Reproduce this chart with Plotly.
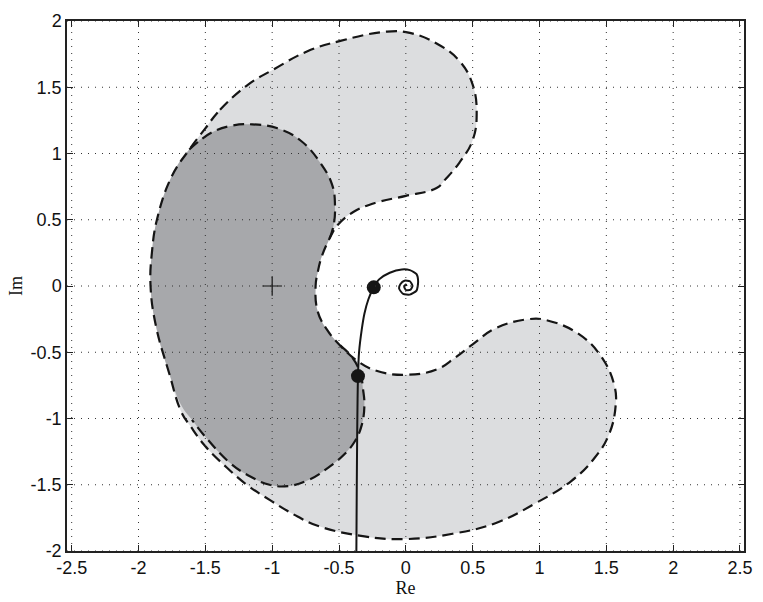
import plotly.graph_objects as go

# ---- data ----
# light (outer) uncertainty region boundary, clockwise, includes inner concave edge
light_x = [-1.50, -1.39, -1.18, -0.98, -0.74, -0.49, -0.14, 0.03, 0.23, 0.40, 0.50, 0.53, 0.50, 0.40, 0.30,
           0.23, 0.00, -0.22, -0.39, -0.51, -0.57, -0.63, -0.66, -0.675, -0.66, -0.59, -0.49, -0.37, -0.22,
           0.00, 0.23, 0.37, 0.50, 0.67, 0.92, 1.06, 1.29, 1.46, 1.56, 1.57, 1.52, 1.41, 1.24, 0.97, 0.67,
           0.35, 0.00, -0.31, -0.66, -0.81, -1.01, -1.19, -1.34, -1.50, -1.61, -1.68, -1.77, -1.87, -1.91,
           -1.90, -1.86, -1.75, -1.62, -1.50]
light_y = [1.19, 1.33, 1.52, 1.64, 1.77, 1.85, 1.92, 1.91, 1.83, 1.70, 1.52, 1.30, 1.10, 0.93, 0.81,
           0.74, 0.68, 0.63, 0.56, 0.46, 0.36, 0.22, 0.10, 0.00, -0.19, -0.33, -0.45, -0.56, -0.64,
           -0.67, -0.63, -0.54, -0.44, -0.32, -0.25, -0.26, -0.36, -0.53, -0.75, -0.90, -1.12, -1.30, -1.47,
           -1.64, -1.79, -1.87, -1.91, -1.89, -1.81, -1.74, -1.62, -1.50, -1.37, -1.21, -1.06, -0.95, -0.66,
           -0.30, 0.00, 0.25, 0.51, 0.83, 1.03, 1.19]

# dark region boundary, clockwise from top-left divergence
dark_x = [-1.62, -1.45, -1.30, -1.15, -0.96, -0.79, -0.64, -0.55, -0.53, -0.54, -0.57, -0.63, -0.66, -0.675,
          -0.66, -0.59, -0.49, -0.40, -0.34, -0.32, -0.31, -0.33, -0.38, -0.46, -0.58, -0.72, -0.88, -1.02,
          -1.16, -1.31, -1.49, -1.60, -1.68, -1.77, -1.87, -1.91, -1.90, -1.86, -1.75, -1.62]
dark_y = [1.03, 1.16, 1.21, 1.22, 1.19, 1.10, 0.93, 0.76, 0.61, 0.46, 0.36, 0.22, 0.10, 0.00,
          -0.19, -0.33, -0.45, -0.54, -0.66, -0.78, -0.90, -1.05, -1.17, -1.27, -1.37, -1.46, -1.51, -1.50,
          -1.44, -1.34, -1.15, -1.01, -0.90, -0.66, -0.30, 0.00, 0.25, 0.51, 0.83, 1.03]

# Nyquist curve
nyq_x = [-0.372, -0.370, -0.367, -0.364, -0.361, -0.358, -0.350, -0.330, -0.310, -0.280, -0.240, -0.200,
         -0.120, -0.030, 0.030, 0.080, 0.092, 0.080, 0.030, -0.020, -0.050, -0.040, -0.010, 0.030, 0.050,
         0.032, 0.000, -0.012, 0.000, 0.006]
nyq_y = [-2.30, -2.00, -1.50, -1.12, -0.85, -0.68, -0.50, -0.33, -0.21, -0.10, -0.01, 0.05,
         0.10, 0.125, 0.12, 0.09, 0.03, -0.035, -0.065, -0.06, -0.02, 0.015, 0.040, 0.036, 0.000,
         -0.030, -0.030, -0.005, 0.012, 0.000]

# highlighted points on the curve
pt_x = [-0.24, -0.358]
pt_y = [-0.01, -0.68]

# critical point
crit_x = [-1.0]
crit_y = [0.0]

xticks = [-2.5, -2, -1.5, -1, -0.5, 0, 0.5, 1, 1.5, 2, 2.5]
xtick_text = ["-2.5", "-2", "-1.5", "-1", "-0.5", "0", "0.5", "1", "1.5", "2", "2.5"]
yticks = [-2, -1.5, -1, -0.5, 0, 0.5, 1, 1.5, 2]
ytick_text = ["-2", "-1.5", "-1", "-0.5", "0", "0.5", "1", "1.5", "2"]

XR = [-2.535, 2.53]
YR = [-2.0, 2.0]

LIGHT = "#dcdddf"
DARK = "#a7a8ab"
INK = "#151515"
DASH = "11px,6px"
SM = 1.2

fig = go.Figure()

fig.add_trace(go.Scatter(x=light_x, y=light_y, mode="lines", fill="toself", fillcolor=LIGHT,
                         line=dict(width=0, shape="spline", smoothing=SM), hoverinfo="skip",
                         showlegend=False))
fig.add_trace(go.Scatter(x=dark_x, y=dark_y, mode="lines", fill="toself", fillcolor=DARK,
                         line=dict(width=0, shape="spline", smoothing=SM), hoverinfo="skip",
                         showlegend=False))
# outlines
fig.add_trace(go.Scatter(x=light_x, y=light_y, mode="lines",
                         line=dict(color=INK, width=2.2, dash=DASH, shape="spline", smoothing=SM),
                         hoverinfo="skip", showlegend=False))
# dark unique boundary: top part and lower-right part
fig.add_trace(go.Scatter(x=dark_x[0:11], y=dark_y[0:11], mode="lines",
                         line=dict(color=INK, width=2.2, dash=DASH, shape="spline", smoothing=SM),
                         hoverinfo="skip", showlegend=False))
fig.add_trace(go.Scatter(x=dark_x[16:32], y=dark_y[16:32], mode="lines",
                         line=dict(color=INK, width=2.2, dash=DASH, shape="spline", smoothing=SM),
                         hoverinfo="skip", showlegend=False))

fig.add_trace(go.Scatter(x=nyq_x, y=nyq_y, mode="lines",
                         line=dict(color=INK, width=2, shape="spline", smoothing=0.6),
                         hoverinfo="skip", showlegend=False))
fig.add_trace(go.Scatter(x=pt_x, y=pt_y, mode="markers",
                         marker=dict(color=INK, size=14, line=dict(width=0)),
                         hoverinfo="skip", showlegend=False))
fig.add_trace(go.Scatter(x=crit_x, y=crit_y, mode="markers",
                         marker=dict(symbol="cross-thin", size=14, line=dict(color=INK, width=1.2)),
                         hoverinfo="skip", showlegend=False))

# dotted grid above the fills
shapes = []
for v in xticks:
    shapes.append(dict(type="line", xref="x", yref="paper", x0=v, x1=v, y0=0, y1=1, layer="above",
                       line=dict(color="#333", width=1, dash="1px,6px")))
for v in yticks:
    shapes.append(dict(type="line", xref="paper", yref="y", x0=0, x1=1, y0=v, y1=v, layer="above",
                       line=dict(color="#333", width=1, dash="1px,6px")))

tickfont = dict(family="Liberation Sans", size=18, color="#111")
fig.update_layout(
    width=763, height=602,
    margin=dict(l=67, r=11, t=12, b=50),
    paper_bgcolor="white", plot_bgcolor="white",
    shapes=shapes,
    xaxis=dict(range=XR, tickvals=xticks, ticktext=xtick_text, showgrid=False, zeroline=False,
               showline=True, linecolor="#222", linewidth=1.5, mirror="ticks", ticks="inside",
               ticklen=6, tickcolor="#222", tickfont=tickfont,
               title=dict(text="Re", font=dict(family="Liberation Serif", size=18, color="#111"),
                          standoff=0)),
    yaxis=dict(range=YR, tickvals=yticks, ticktext=ytick_text, showgrid=False, zeroline=False,
               showline=True, linecolor="#222", linewidth=1.5, mirror="ticks", ticks="inside",
               ticklen=6, tickcolor="#222", tickfont=tickfont,
               title=dict(text="Im", font=dict(family="Liberation Serif", size=18, color="#111"),
                          standoff=3)),
)

fig.write_html("out.html")
